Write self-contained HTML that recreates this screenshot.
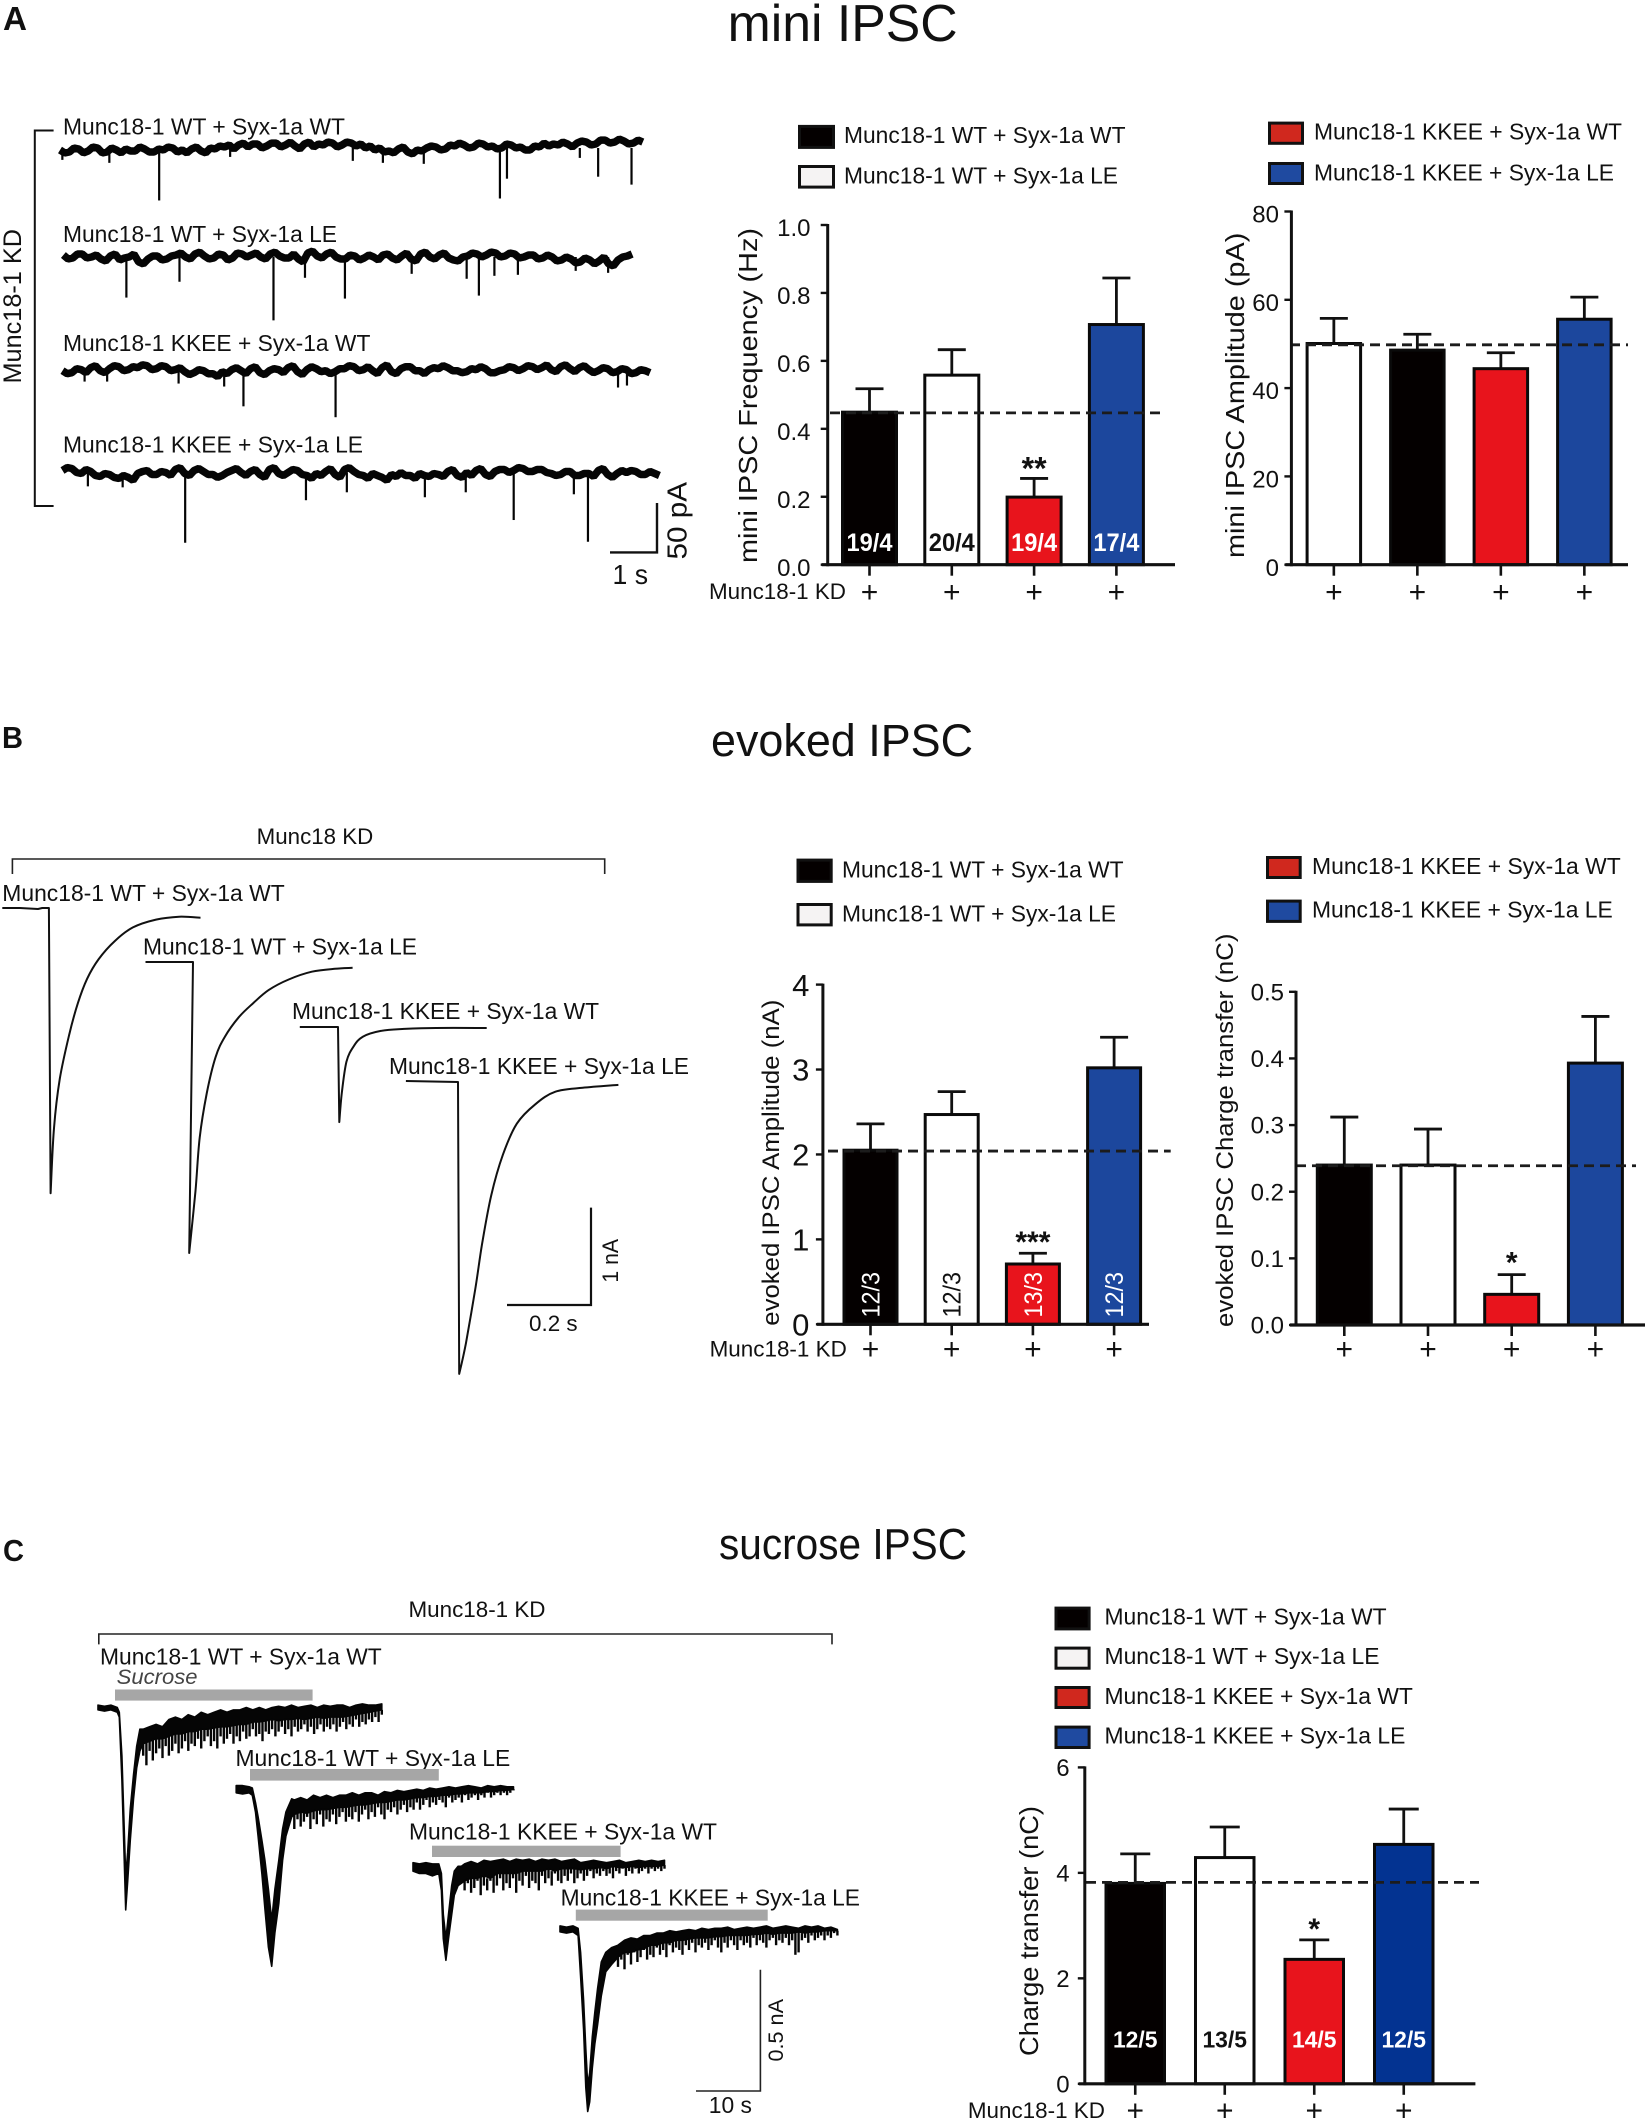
<!DOCTYPE html>
<html lang="en">
<head>
<meta charset="utf-8">
<title>Munc18-1 IPSC figure</title>
<style>
html,body{margin:0;padding:0;background:#fff;}
svg{display:block;}
text{font-family:"Liberation Sans",sans-serif;fill:#111;}
</style>
</head>
<body>
<svg id="fig" xmlns="http://www.w3.org/2000/svg" width="1650" height="2121" viewBox="0 0 1650 2121">
<rect width="1650" height="2121" fill="#fff"/>

<!-- panel headers -->
<text x="3" y="30" font-size="33" font-weight="700" textLength="24" lengthAdjust="spacingAndGlyphs">A</text>
<text x="2" y="748" font-size="31" font-weight="700" textLength="21" lengthAdjust="spacingAndGlyphs">B</text>
<text x="3" y="1561" font-size="31" font-weight="700" textLength="21" lengthAdjust="spacingAndGlyphs">C</text>
<text x="727.6" y="41" font-size="52" textLength="230" lengthAdjust="spacingAndGlyphs">mini IPSC</text>
<text x="711" y="756" font-size="45" textLength="262" lengthAdjust="spacingAndGlyphs">evoked IPSC</text>
<text x="719" y="1559" font-size="44" textLength="248" lengthAdjust="spacingAndGlyphs">sucrose IPSC</text>

<!-- panel A traces annotation -->
<path d="M53.6 130.5H34.8V506H53.6" fill="none" stroke="#111" stroke-width="2"/>
<text x="21" y="383.5" font-size="25" textLength="154.5" lengthAdjust="spacingAndGlyphs" transform="rotate(-90 21 383.5)">Munc18-1 KD</text>
<text x="63" y="134.4" font-size="23" textLength="282" lengthAdjust="spacingAndGlyphs">Munc18-1 WT + Syx-1a WT</text>
<text x="63" y="242" font-size="23" textLength="274" lengthAdjust="spacingAndGlyphs">Munc18-1 WT + Syx-1a LE</text>
<text x="63" y="351" font-size="23" textLength="307.4" lengthAdjust="spacingAndGlyphs">Munc18-1 KKEE + Syx-1a WT</text>
<text x="63" y="452.7" font-size="23" textLength="300" lengthAdjust="spacingAndGlyphs">Munc18-1 KKEE + Syx-1a LE</text>
<path d="M610 552.4H657V503" fill="none" stroke="#111" stroke-width="2.4"/>
<text x="612.5" y="584" font-size="28" textLength="35.5" lengthAdjust="spacingAndGlyphs">1 s</text>
<text x="686.6" y="559.5" font-size="28" textLength="77.5" lengthAdjust="spacingAndGlyphs" transform="rotate(-90 686.6 559.5)">50 pA</text>

<!-- panel A legends -->
<g><rect x="799.5" y="126.4" width="34" height="21" fill="#040000" stroke="#111" stroke-width="3"/><text x="844" y="143" font-size="23" textLength="281.5" lengthAdjust="spacingAndGlyphs">Munc18-1 WT + Syx-1a WT</text></g>
<g><rect x="799.5" y="166.5" width="34" height="20.6" fill="#f5f3f3" stroke="#111" stroke-width="3"/><text x="844" y="183.6" font-size="23" textLength="274" lengthAdjust="spacingAndGlyphs">Munc18-1 WT + Syx-1a LE</text></g>
<g><rect x="1269.5" y="123.1" width="33" height="20.2" fill="#d0281e" stroke="#111" stroke-width="3"/><text x="1314" y="139.5" font-size="23" textLength="308" lengthAdjust="spacingAndGlyphs">Munc18-1 KKEE + Syx-1a WT</text></g>
<g><rect x="1269.5" y="163.5" width="33" height="20" fill="#1f4aa0" stroke="#111" stroke-width="3"/><text x="1314" y="180.3" font-size="23" textLength="300" lengthAdjust="spacingAndGlyphs">Munc18-1 KKEE + Syx-1a LE</text></g>

<!-- panel B traces annotation -->
<text x="256.7" y="843.8" font-size="22" textLength="116.6" lengthAdjust="spacingAndGlyphs">Munc18 KD</text>
<path d="M12.4 874V859H604.7V874" fill="none" stroke="#222" stroke-width="1.6"/>
<text x="2.3" y="901" font-size="23" textLength="282.4" lengthAdjust="spacingAndGlyphs">Munc18-1 WT + Syx-1a WT</text>
<text x="143" y="954.5" font-size="23" textLength="274" lengthAdjust="spacingAndGlyphs">Munc18-1 WT + Syx-1a LE</text>
<text x="292" y="1019" font-size="23" textLength="307" lengthAdjust="spacingAndGlyphs">Munc18-1 KKEE + Syx-1a WT</text>
<text x="389" y="1074" font-size="23" textLength="300" lengthAdjust="spacingAndGlyphs">Munc18-1 KKEE + Syx-1a LE</text>
<path d="M507 1305H591V1207.6" fill="none" stroke="#111" stroke-width="2.2"/>
<text x="529" y="1330.8" font-size="22" textLength="48.6" lengthAdjust="spacingAndGlyphs">0.2 s</text>
<text x="618" y="1282.6" font-size="22" textLength="43.6" lengthAdjust="spacingAndGlyphs" transform="rotate(-90 618 1282.6)">1 nA</text>

<!-- panel B legends -->
<g><rect x="798" y="860.1" width="33.2" height="21.3" fill="#040000" stroke="#111" stroke-width="3"/><text x="842" y="877.5" font-size="23" textLength="281.6" lengthAdjust="spacingAndGlyphs">Munc18-1 WT + Syx-1a WT</text></g>
<g><rect x="798" y="904.5" width="33.2" height="20.4" fill="#f5f3f3" stroke="#111" stroke-width="3"/><text x="842" y="921.4" font-size="23" textLength="274" lengthAdjust="spacingAndGlyphs">Munc18-1 WT + Syx-1a LE</text></g>
<g><rect x="1267.5" y="857.5" width="32.7" height="20" fill="#d0281e" stroke="#111" stroke-width="3"/><text x="1312" y="873.9" font-size="23" textLength="308.8" lengthAdjust="spacingAndGlyphs">Munc18-1 KKEE + Syx-1a WT</text></g>
<g><rect x="1267.5" y="901.1" width="32.7" height="20.3" fill="#1f4aa0" stroke="#111" stroke-width="3"/><text x="1312" y="917.5" font-size="23" textLength="300.8" lengthAdjust="spacingAndGlyphs">Munc18-1 KKEE + Syx-1a LE</text></g>

<!-- panel C traces annotation -->
<text x="408.5" y="1616.8" font-size="22" textLength="137" lengthAdjust="spacingAndGlyphs">Munc18-1 KD</text>
<path d="M98.8 1644.4V1634H832V1644.4" fill="none" stroke="#222" stroke-width="1.6"/>
<text x="100" y="1664.7" font-size="23" textLength="281.7" lengthAdjust="spacingAndGlyphs">Munc18-1 WT + Syx-1a WT</text>
<text x="116.7" y="1683.8" font-size="21" font-style="italic" textLength="80.8" lengthAdjust="spacingAndGlyphs" style="fill:#444">Sucrose</text>
<rect x="115" y="1689.5" width="197.6" height="11.1" fill="#a6a6a6"/>
<text x="235.5" y="1766" font-size="23" textLength="274.7" lengthAdjust="spacingAndGlyphs">Munc18-1 WT + Syx-1a LE</text>
<rect x="250" y="1769" width="188.8" height="11.6" fill="#a6a6a6"/>
<text x="409" y="1839.6" font-size="23" textLength="308" lengthAdjust="spacingAndGlyphs">Munc18-1 KKEE + Syx-1a WT</text>
<rect x="432" y="1845.7" width="188.6" height="11.3" fill="#a6a6a6"/>
<text x="560.6" y="1905.4" font-size="23" textLength="299.4" lengthAdjust="spacingAndGlyphs">Munc18-1 KKEE + Syx-1a LE</text>
<rect x="575.8" y="1909.6" width="191.9" height="11.1" fill="#a6a6a6"/>
<path d="M696 2091H760.4V1969.7" fill="none" stroke="#222" stroke-width="1.6"/>
<text x="708.8" y="2113" font-size="23" textLength="43.2" lengthAdjust="spacingAndGlyphs">10 s</text>
<text x="783" y="2061.5" font-size="21" textLength="62.5" lengthAdjust="spacingAndGlyphs" transform="rotate(-90 783 2061.5)">0.5 nA</text>

<!-- panel C legend -->
<g><rect x="1056" y="1608.1" width="33.1" height="20.8" fill="#040000" stroke="#111" stroke-width="3"/><text x="1104.5" y="1624.4" font-size="23" textLength="282.1" lengthAdjust="spacingAndGlyphs">Munc18-1 WT + Syx-1a WT</text></g>
<g><rect x="1056" y="1648.1" width="33.1" height="20.1" fill="#f5f3f3" stroke="#111" stroke-width="3"/><text x="1104.5" y="1664.2" font-size="23" textLength="275" lengthAdjust="spacingAndGlyphs">Munc18-1 WT + Syx-1a LE</text></g>
<g><rect x="1056" y="1687.5" width="33.1" height="20" fill="#d0281e" stroke="#111" stroke-width="3"/><text x="1104.5" y="1703.8" font-size="23" textLength="308.4" lengthAdjust="spacingAndGlyphs">Munc18-1 KKEE + Syx-1a WT</text></g>
<g><rect x="1056" y="1727.1" width="33.1" height="20.4" fill="#1f4aa0" stroke="#111" stroke-width="3"/><text x="1104.5" y="1743.5" font-size="23" textLength="300.9" lengthAdjust="spacingAndGlyphs">Munc18-1 KKEE + Syx-1a LE</text></g>

<!-- axis titles -->
<text x="757" y="563" font-size="26" textLength="335" lengthAdjust="spacingAndGlyphs" transform="rotate(-90 757 563)">mini IPSC Frequency (Hz)</text>
<text x="1244" y="558" font-size="26" textLength="325.3" lengthAdjust="spacingAndGlyphs" transform="rotate(-90 1244 558)">mini IPSC Amplitude (pA)</text>
<text x="778.8" y="1325.7" font-size="24" textLength="326" lengthAdjust="spacingAndGlyphs" transform="rotate(-90 778.8 1325.7)">evoked IPSC Amplitude (nA)</text>
<text x="1233" y="1327" font-size="24" textLength="393.4" lengthAdjust="spacingAndGlyphs" transform="rotate(-90 1233 1327)">evoked IPSC Charge transfer (nC)</text>
<text x="1038" y="2056" font-size="26" textLength="250" lengthAdjust="spacingAndGlyphs" transform="rotate(-90 1038 2056)">Charge transfer (nC)</text>

<!-- row captions -->
<text x="709" y="599" font-size="22" textLength="137" lengthAdjust="spacingAndGlyphs">Munc18-1 KD</text>
<text x="709.6" y="1356.5" font-size="22" textLength="137.2" lengthAdjust="spacingAndGlyphs">Munc18-1 KD</text>
<text x="967.9" y="2118" font-size="22" textLength="137" lengthAdjust="spacingAndGlyphs">Munc18-1 KD</text>

<g id="marks"></g>
</svg>

<script>
/* ---------- bar chart data ---------- */
const kdRow = ['+', '+', '+', '+'];

const miniFreqTicks = ['0.0', '0.2', '0.4', '0.6', '0.8', '1.0'];
const miniFreqValues = [0.449, 0.558, 0.199, 0.707];
const miniFreqErrors = [0.518, 0.633, 0.254, 0.844];
const miniFreqCounts = ['19/4', '20/4', '19/4', '17/4'];
const miniFreqStars = ['', '', '**', ''];
const miniFreqReference = 0.447;

const miniAmpTicks = ['0', '20', '40', '60', '80'];
const miniAmpValues = [50.1, 48.6, 44.4, 55.6];
const miniAmpErrors = [55.8, 52.2, 48, 60.6];
const miniAmpReference = 49.8;

const evokedAmpTicks = ['0', '1', '2', '3', '4'];
const evokedAmpValues = [2.05, 2.47, 0.71, 3.02];
const evokedAmpErrors = [2.36, 2.74, 0.837, 3.38];
const evokedAmpCounts = ['12/3', '12/3', '13/3', '12/3'];
const evokedAmpStars = ['', '', '***', ''];
const evokedAmpReference = 2.04;

const evokedChargeTicks = ['0.0', '0.1', '0.2', '0.3', '0.4', '0.5'];
const evokedChargeValues = [0.24, 0.24, 0.046, 0.393];
const evokedChargeErrors = [0.312, 0.294, 0.0756, 0.463];
const evokedChargeStars = ['', '', '*', ''];
const evokedChargeReference = 0.239;

const sucroseTicks = ['0', '2', '4', '6'];
const sucroseValues = [3.8, 4.29, 2.36, 4.54];
const sucroseErrors = [4.36, 4.87, 2.73, 5.21];
const sucroseCounts = ['12/5', '13/5', '14/5', '12/5'];
const sucroseStars = ['', '', '*', ''];
const sucroseReference = 3.82;

/* ---------- mini IPSC traces (pA, sampled every 0.1 s) ---------- */
const mini1Level = [-2,-5,-4,0,-1,-5,-3,1,0,-5,-4,0,-2,-5,-1,-3,-3,1,-1,-4,-4,-1,-2,1,0,-4,-2,-5,-1,1,-3,-5,0,-1,2,1,3,-1,3,5,1,4,4,0,2,5,5,1,3,6,2,-1,4,6,1,4,3,6,5,1,3,6,5,2,4,0,2,-2,0,-4,-3,-5,-1,1,-4,-6,-2,-3,0,2,1,-2,-1,3,2,5,3,0,1,5,4,1,2,-1,0,4,3,0,1,-2,-2,2,1,5,2,4,3,6,4,1,5,7,6,3,4,8,8,5,6,9,7,4,5,8,6];
const mini1SpikeTime = [0.05,1.05,2.11,3.62,6.23,6.87,7.74,9.36,9.51,11.06,11.45,12.16];
const mini1SpikeDepth = [12,15,53,9,13,15,16,51,31,10,29,37];

const mini2Level = [2,-2,-1,3,3,-1,0,2,-2,-4,1,3,-3,-1,0,3,-5,-7,-2,1,1,-3,-2,1,2,4,0,-2,3,5,1,-2,-1,3,2,-3,-1,4,3,0,2,4,0,-2,3,5,1,-1,-1,3,-2,-5,4,6,1,-1,3,5,0,-2,-2,2,1,-3,-1,2,0,-3,2,3,-1,-3,1,4,-2,-4,3,5,0,-2,2,4,-1,-3,-4,0,1,4,3,0,2,5,4,0,1,4,3,-1,0,2,2,-2,-1,2,0,-4,-3,0,-2,-6,-5,-1,-3,-7,-4,0,-7,-9,-3,0,1,3];
const mini2SpikeTime = [1.34,2.47,4.47,5.14,5.99,7.41,8.58,8.84,9.17,9.67,10.9,11.59];
const mini2SpikeDepth = [41,25,64,21,42,17,22,39,19,18,14,16];

const mini3Level = [-1,-4,-3,1,0,-3,2,4,-1,-3,1,4,3,-1,0,3,2,5,4,0,1,4,3,-1,0,2,-2,-5,-3,0,-1,-4,-4,-7,-2,-4,0,2,-1,-4,1,3,-3,-5,-1,1,0,-3,2,4,-2,-5,0,3,1,-2,-1,-4,-2,1,1,4,3,-1,0,3,-1,-4,2,5,-2,-4,1,3,3,-1,-1,-4,0,2,1,4,2,-1,-1,-3,-2,1,0,3,1,-3,-3,-1,0,3,2,-1,1,4,3,0,2,5,0,-2,3,5,1,-2,2,4,0,-3,-1,2,1,-3,-2,1,0,-4,-3,0,-1,-3];
const mini3SpikeTime = [0.47,0.95,2.47,3.44,3.85,5.81,11.82,12.01];
const mini3SpikeDepth = [12,12,14,17,37,48,18,16];

const mini4Level = [2,5,4,0,-1,3,1,-3,-4,-1,-2,-5,-6,-3,-5,-8,-1,1,2,-2,-2,1,0,-3,3,5,-1,-3,2,4,1,-2,-2,-5,-3,0,2,4,0,-3,1,3,-2,-5,3,5,-1,-3,0,3,2,-2,-3,-6,-1,-3,1,4,-2,-5,3,5,1,-2,-3,-6,-1,-3,-5,-8,-2,-4,0,-3,-3,-6,-1,-3,-4,-1,-2,-4,1,3,-3,-5,0,-3,2,4,-2,-4,1,3,3,0,2,5,4,1,1,3,3,0,-1,-3,-2,1,1,-3,-3,-1,-1,-4,2,4,-2,-5,-1,2,0,2,1,-2,-2,1,-1,-3];
const mini4SpikeTime = [0.54,1.28,2.61,5.18,6.05,7.71,8.58,9.6,10.88,11.18];
const mini4SpikeDepth = [14,15,71,28,20,25,20,48,22,70];

/* ---------- evoked IPSC traces (s, nA) ---------- */
const evoked1Time = [0,0.042,0.085,0.095,0.111,0.115,0.123,0.137,0.159,0.18,0.202,0.229,0.268,0.311,0.366,0.421,0.472];
const evoked1Current = [0,0,-0.01,0,0,-2.94,-2.27,-1.76,-1.31,-0.98,-0.73,-0.53,-0.34,-0.2,-0.12,-0.09,-0.1];
const evoked2Time = [0,0.113,0.104,0.119,0.129,0.146,0.167,0.189,0.222,0.255,0.293,0.341,0.396,0.451,0.493];
const evoked2Current = [0,0,-3,-2.36,-1.81,-1.35,-0.98,-0.77,-0.57,-0.43,-0.29,-0.18,-0.1,-0.07,-0.06];
const evoked3Time = [0,0.091,0.094,0.1,0.111,0.128,0.15,0.193,0.248,0.324,0.445];
const evoked3Current = [0,0,-0.98,-0.68,-0.36,-0.2,-0.1,-0.04,-0.02,-0.01,-0.01];
const evoked4Time = [0,0.124,0.127,0.143,0.165,0.181,0.203,0.231,0.264,0.308,0.356,0.421,0.506];
const evoked4Current = [0,-0.01,-3.02,-2.7,-2.15,-1.69,-1.18,-0.76,-0.44,-0.24,-0.11,-0.07,-0.04];

/* ---------- sucrose traces (s; solid band envelope and fringe minima every 0.5 s, nA) ---------- */
const sucrose1Time = [0,1,2,3,3.3,3.7,4,4.3,4.6,5,5.5,6,6.5,7,8,9,10,11,12,13,14,15,16,17,18,19,20,21,22,23,24,25,26,27,28,29,30,31,32,33,34,35,36,37,38,39,40,41,42,43,44];
const sucrose1Top = [0.01,0.005,0.01,0,-0.02,-0.2,-0.45,-0.7,-0.6,-0.42,-0.28,-0.16,-0.09,-0.09,-0.08,-0.07,-0.08,-0.05,-0.04,-0.05,-0.03,-0.04,-0.02,-0.03,-0.02,-0.01,-0.02,-0.01,-0.01,0,-0.01,0,-0.01,0,0.005,0,0.01,0,0.005,0.01,0,0.01,0.005,0.01,0.01,0,0.01,0.015,0.01,0.01,0.015];
const sucrose1Bottom = [-0.01,-0.015,-0.01,-0.02,-0.04,-0.3,-0.57,-0.84,-0.72,-0.55,-0.38,-0.25,-0.18,-0.15,-0.14,-0.13,-0.13,-0.12,-0.11,-0.11,-0.1,-0.1,-0.09,-0.09,-0.085,-0.08,-0.08,-0.075,-0.07,-0.07,-0.06,-0.06,-0.055,-0.05,-0.055,-0.05,-0.05,-0.045,-0.05,-0.045,-0.04,-0.045,-0.04,-0.04,-0.04,-0.035,-0.03,-0.025,-0.02,-0.015,-0.01];
const sucrose1FringeStart = 7;
const sucrose1Fringe = [-0.2,-0.24,-0.18,-0.22,-0.19,-0.17,-0.21,-0.16,-0.2,-0.18,-0.15,-0.19,-0.17,-0.14,-0.18,-0.15,-0.16,-0.13,-0.17,-0.14,-0.12,-0.16,-0.14,-0.17,-0.12,-0.15,-0.13,-0.11,-0.15,-0.12,-0.14,-0.1,-0.13,-0.12,-0.09,-0.12,-0.11,-0.14,-0.1,-0.11,-0.09,-0.12,-0.1,-0.08,-0.11,-0.09,-0.12,-0.08,-0.1,-0.09,-0.07,-0.1,-0.08,-0.11,-0.09,-0.07,-0.1,-0.08,-0.09,-0.07,-0.1,-0.08,-0.06,-0.09,-0.07,-0.08,-0.05,-0.08,-0.06,-0.07,-0.05,-0.06,-0.04,-0.06,-0.03];

const sucrose2Time = [0,1,2,2.5,3,3.4,4,4.45,5,5.5,6,6.6,7.2,7.7,8.6,9,10,11,12,13,14,15,16,17,18,19,20,21,22,23,24,25,26,27,28,29,30,31,32,33,34,35,36,37,38,39,40,41,42,43];
const sucrose2Top = [0.01,0.01,0.005,0,-0.06,-0.12,-0.22,-0.3,-0.42,-0.55,-0.42,-0.3,-0.17,-0.1,-0.045,-0.05,-0.04,-0.05,-0.03,-0.04,-0.03,-0.04,-0.03,-0.03,-0.02,-0.03,-0.02,-0.02,-0.03,-0.015,-0.02,-0.01,-0.015,-0.01,-0.005,-0.01,0,-0.005,0,0.005,0,0.005,0.01,0.005,0,0.01,0.005,0.01,0.005,0.005];
const sucrose2Bottom = [-0.02,-0.025,-0.02,-0.03,-0.1,-0.2,-0.36,-0.5,-0.66,-0.74,-0.6,-0.48,-0.3,-0.2,-0.12,-0.11,-0.1,-0.105,-0.095,-0.09,-0.09,-0.085,-0.08,-0.08,-0.075,-0.07,-0.07,-0.065,-0.06,-0.06,-0.055,-0.05,-0.05,-0.045,-0.04,-0.04,-0.035,-0.035,-0.03,-0.03,-0.025,-0.025,-0.02,-0.02,-0.02,-0.015,-0.015,-0.01,-0.01,-0.005];
const sucrose2FringeStart = 9;
const sucrose2Fringe = [-0.17,-0.13,-0.16,-0.14,-0.12,-0.17,-0.13,-0.15,-0.11,-0.16,-0.13,-0.14,-0.11,-0.15,-0.12,-0.1,-0.14,-0.12,-0.13,-0.1,-0.14,-0.11,-0.09,-0.13,-0.1,-0.12,-0.08,-0.11,-0.13,-0.09,-0.1,-0.08,-0.11,-0.09,-0.07,-0.1,-0.08,-0.09,-0.06,-0.09,-0.07,-0.05,-0.08,-0.06,-0.07,-0.05,-0.06,-0.08,-0.04,-0.06,-0.05,-0.04,-0.06,-0.03,-0.05,-0.04,-0.03,-0.05,-0.03,-0.04,-0.02,-0.04,-0.03,-0.02,-0.03,-0.02,-0.03,-0.02,-0.01];

const sucrose3Time = [0,1,2,3,4,4.4,4.7,5.1,5.5,6,6.4,7,7.5,8,9,10,11,12,13,14,15,16,17,18,19,20,21,22,23,24,25,26,27,28,29,30,31,32,33,34,35,36,37,38,39];
const sucrose3Top = [0.015,0.01,0.015,0.01,0.01,-0.03,-0.2,-0.3,-0.2,-0.08,-0.02,0,0,0.01,0.02,0.01,0.025,0.02,0.025,0.03,0.02,0.03,0.025,0.03,0.02,0.03,0.025,0.03,0.02,0.025,0.03,0.015,0.02,0.025,0.02,0.015,0.02,0.025,0.015,0.02,0.025,0.02,0.025,0.02,0.025];
const sucrose3Bottom = [-0.02,-0.03,-0.03,-0.04,-0.03,-0.1,-0.3,-0.39,-0.3,-0.2,-0.12,-0.08,-0.07,-0.06,-0.05,-0.05,-0.04,-0.05,-0.03,-0.03,-0.03,-0.03,-0.02,-0.02,-0.02,-0.02,-0.01,-0.02,-0.01,-0.01,-0.01,-0.015,-0.01,-0.01,-0.005,-0.01,0,-0.005,-0.005,0,-0.005,0,0,0,0.005];
const sucrose3FringeStart = 8;
const sucrose3Fringe = [-0.1,-0.07,-0.11,-0.09,-0.06,-0.12,-0.08,-0.1,-0.06,-0.11,-0.08,-0.05,-0.1,-0.07,-0.09,-0.05,-0.11,-0.06,-0.08,-0.04,-0.09,-0.06,-0.07,-0.1,-0.04,-0.07,-0.05,-0.08,-0.03,-0.06,-0.07,-0.04,-0.06,-0.03,-0.07,-0.05,-0.03,-0.06,-0.04,-0.02,-0.05,-0.03,-0.04,-0.02,-0.04,-0.03,-0.05,-0.02,-0.03,-0.01,-0.04,-0.02,-0.03,-0.01,-0.03,-0.02,-0.01,-0.03,-0.01,-0.02,-0.01,-0.02,-0.01];

const sucrose4Time = [0,1,2,2.8,3.2,3.66,4,4.3,4.6,5,5.4,5.83,6.4,7.1,8,9,10,11,12,13,14,15,16,17,18,19,20,21,22,23,24,25,26,27,28,29,30,31,32,33,34,35,36,37,38,39,40,41,42,43];
const sucrose4Top = [0.01,0.005,0.01,0,-0.1,-0.3,-0.5,-0.65,-0.6,-0.45,-0.35,-0.25,-0.14,-0.1,-0.08,-0.07,-0.05,-0.04,-0.045,-0.03,-0.03,-0.02,-0.02,-0.01,-0.015,-0.01,-0.005,-0.01,0,-0.005,0,0,0.005,-0.005,0,0.005,0,0.005,0.01,0,0.005,0.01,0.005,0,0.01,0.005,0.01,0,0.005,-0.005];
const sucrose4Bottom = [-0.015,-0.02,-0.015,-0.03,-0.2,-0.42,-0.66,-0.76,-0.72,-0.58,-0.48,-0.4,-0.28,-0.18,-0.15,-0.12,-0.1,-0.1,-0.09,-0.085,-0.07,-0.07,-0.06,-0.06,-0.05,-0.05,-0.045,-0.04,-0.04,-0.04,-0.035,-0.035,-0.03,-0.03,-0.03,-0.03,-0.025,-0.025,-0.02,-0.025,-0.02,-0.02,-0.02,-0.015,-0.02,-0.015,-0.015,-0.01,-0.01,-0.01];
const sucrose4FringeStart = 9;
const sucrose4Fringe = [-0.16,-0.13,-0.17,-0.11,-0.15,-0.1,-0.14,-0.12,-0.09,-0.13,-0.11,-0.12,-0.08,-0.11,-0.09,-0.12,-0.07,-0.1,-0.08,-0.09,-0.11,-0.07,-0.09,-0.06,-0.1,-0.07,-0.08,-0.06,-0.09,-0.07,-0.05,-0.08,-0.1,-0.06,-0.08,-0.05,-0.07,-0.09,-0.05,-0.07,-0.06,-0.08,-0.04,-0.07,-0.05,-0.06,-0.08,-0.05,-0.04,-0.07,-0.05,-0.06,-0.04,-0.07,-0.05,-0.11,-0.1,-0.05,-0.04,-0.06,-0.03,-0.05,-0.04,-0.03,-0.05,-0.03,-0.04,-0.02,-0.03];

/* ---------- drawing ---------- */
const NS = 'http://www.w3.org/2000/svg';
const root = document.getElementById('marks');
const BLACK = '#040000', WHITE = '#ffffff', RED = '#e8141c', BLUE = '#1c479d', NAVY = '#033391';

function make(tag, attrs, parent) {
  const node = document.createElementNS(NS, tag);
  Object.keys(attrs).forEach(function (k) { node.setAttribute(k, attrs[k]); });
  (parent || root).appendChild(node);
  return node;
}

function drawBarChart(c) {
  const g = make('g', {});
  
  
  const max = parseFloat(c.ticks[c.ticks.length - 1]);
  const yOf = function (v) { return c.base - (v / max) * (c.base - c.top); };
  const left = function (i) { return c.first + i * c.step; };
  const mid = function (i) { return left(i) + c.width / 2; };

  c.values.forEach(function (v, i) {
    const err = make('path', {
      d: 'M' + mid(i) + ' ' + yOf(v) + 'V' + yOf(c.errors[i]) + 'M' + (mid(i) - c.cap / 2) + ' ' + yOf(c.errors[i]) + 'H' + (mid(i) + c.cap / 2),
      fill: 'none', stroke: '#111', 'stroke-width': 2.8
    }, g);
    
    
    const bar = make('rect', {
      x: left(i) + 1.5, y: yOf(v), width: c.width - 3, height: c.base - yOf(v),
      fill: c.colors[i], stroke: '#0a0a0a', 'stroke-width': 3
    }, g);
    
    
    if (c.counts) {
      const cx = mid(i);
      const ink = c.colors[i] === WHITE ? '#111' : '#fff';
      const label = make('text', {
        'font-size': c.countSize, 'font-weight': c.countRotated ? 400 : 700,
        textLength: c.countLength, lengthAdjust: 'spacingAndGlyphs'
      }, g);
      label.style.fill = ink;
      if (c.countRotated) {
        const bx = cx + 9, by = c.countY;
        label.setAttribute('x', bx);
        label.setAttribute('y', by);
        label.setAttribute('transform', 'rotate(-90 ' + bx + ' ' + by + ')');
      } else {
        label.setAttribute('x', cx - c.countLength / 2);
        label.setAttribute('y', c.countY);
      }
      label.textContent = c.counts[i];
      
      
    }
    if (c.stars && c.stars[i]) {
      const star = make('text', {
        x: mid(i), y: yOf(c.errors[i]) - 5 + c.starOffset, 'font-size': c.starSize, 'font-weight': 700, 'text-anchor': 'middle'
      }, g);
      star.textContent = c.stars[i];
      
      
    }
    const xTick = make('line', {
      x1: mid(i), x2: mid(i), y1: c.base, y2: c.base + 11, stroke: '#111', 'stroke-width': 2.6
    }, g);
    
    
    const plus = make('text', {
      x: mid(i), y: c.plusY, 'font-size': 30, 'text-anchor': 'middle'
    }, g);
    plus.textContent = kdRow[i];
    
    
  });

  const ref = make('line', {
    x1: c.refFrom, x2: c.refTo, y1: yOf(c.reference), y2: yOf(c.reference),
    stroke: '#1c1c1c', 'stroke-width': 2.8, 'stroke-dasharray': '10 6'
  }, g);
  
  

  const yAxis = make('line', {
    x1: c.axisX, x2: c.axisX, y1: c.top - 1, y2: c.base + 1.5, stroke: '#111', 'stroke-width': 3
  }, g);
  
  
  const xAxis = make('line', {
    x1: c.axisX - 6, x2: c.axisEnd, y1: c.base, y2: c.base, stroke: '#111', 'stroke-width': 3.2
  }, g);
  
  

  c.ticks.forEach(function (t) {
    const y = yOf(parseFloat(t));
    const tick = make('line', {
      x1: c.axisX - 7, x2: c.axisX, y1: y, y2: y, stroke: '#111', 'stroke-width': 2.4
    }, g);
    
    
    const label = make('text', {
      x: c.labelRight, y: y + c.labelSize * 0.36 + c.labelShift, 'font-size': c.labelSize, 'text-anchor': 'end'
    }, g);
    label.textContent = t;
    
    
  });
}

function drawMiniTrace(level, spikeTime, spikeDepth, x0, y0) {
  const pxPerSec = 47, pxPerPa = 0.99, sampleStep = 0.1;
  const xOf = function (t) { return x0 + t * pxPerSec; };
  const yOf = function (pa) { return y0 - pa * pxPerPa; };
  const d = level.map(function (v, i) { return (i ? 'L' : 'M') + xOf(i * sampleStep).toFixed(1) + ' ' + yOf(v).toFixed(1); }).join('');
  const line = make('path', { d: d, fill: 'none', stroke: '#050505', 'stroke-width': 7.5, 'stroke-linejoin': 'bevel' });
  
  
  spikeTime.forEach(function (t, i) {
    const spike = make('line', {
      x1: xOf(t), x2: xOf(t), y1: y0, y2: y0 + spikeDepth[i] * pxPerPa, stroke: '#050505', 'stroke-width': 2.2
    });
    
    
  });
}

function drawEvokedTrace(time, current, x0, y0) {
  const pxPerSec = 420, pxPerNa = 97;
  const pts = time.map(function (t, i) { return [x0 + t * pxPerSec, y0 - current[i] * pxPerNa]; });
  let peak = 0;
  current.forEach(function (v, i) { if (v < current[peak]) { peak = i; } });
  let d = 'M' + pts[0][0].toFixed(1) + ' ' + pts[0][1].toFixed(1);
  for (let i = 1; i <= peak; i++) { d += 'L' + pts[i][0].toFixed(1) + ' ' + pts[i][1].toFixed(1); }
  for (let i = peak; i < pts.length - 1; i++) {
    const p0 = pts[Math.max(i - 1, peak)], p1 = pts[i], p2 = pts[i + 1], p3 = pts[Math.min(i + 2, pts.length - 1)];
    d += 'C' + (p1[0] + (p2[0] - p0[0]) / 6).toFixed(1) + ' ' + (p1[1] + (p2[1] - p0[1]) / 6).toFixed(1) + ' ' +
         (p2[0] - (p3[0] - p1[0]) / 6).toFixed(1) + ' ' + (p2[1] - (p3[1] - p1[1]) / 6).toFixed(1) + ' ' +
         p2[0].toFixed(1) + ' ' + p2[1].toFixed(1);
  }
  const line = make('path', { d: d, fill: 'none', stroke: '#111', 'stroke-width': 2, 'stroke-linejoin': 'round' });
  
  
}

function drawSucroseTrace(time, top, bottom, fringe, fringeStart, x0, y0) {
  const pxPerSec = 6.45, pxPerNa = 241, fringeStep = 0.5;
  const xOf = function (t) { return (x0 + t * pxPerSec).toFixed(1); };
  const yOf = function (v) { return (y0 - v * pxPerNa).toFixed(1); };
  let d = '';
  time.forEach(function (t, i) { d += (i ? 'L' : 'M') + xOf(t) + ' ' + yOf(top[i]); });
  for (let i = time.length - 1; i >= 0; i--) { d += 'L' + xOf(time[i]) + ' ' + yOf(bottom[i]); }
  const area = make('path', { d: d + 'Z', fill: '#050505', stroke: '#050505', 'stroke-width': 1.6, 'stroke-linejoin': 'round' });
  
  
  fringe.forEach(function (low, i) {
    const t = fringeStart + i * fringeStep;
    let idx = time.findIndex(function (s) { return s >= t; });
    if (idx < 0) { idx = time.length - 1; }
    const spike = make('line', {
      x1: xOf(t), x2: xOf(t), y1: yOf(bottom[idx]), y2: yOf(low), stroke: '#050505', 'stroke-width': 2.4
    });
    
    
  });
}

drawMiniTrace(mini1Level, mini1SpikeTime, mini1SpikeDepth, 60, 148);
drawMiniTrace(mini2Level, mini2SpikeTime, mini2SpikeDepth, 63.4, 257);
drawMiniTrace(mini3Level, mini3SpikeTime, mini3SpikeDepth, 62.5, 369.7);
drawMiniTrace(mini4Level, mini4SpikeTime, mini4SpikeDepth, 62.5, 472.5);

drawEvokedTrace(evoked1Time, evoked1Current, 2.3, 908);
drawEvokedTrace(evoked2Time, evoked2Current, 145.5, 962);
drawEvokedTrace(evoked3Time, evoked3Current, 299.8, 1027);
drawEvokedTrace(evoked4Time, evoked4Current, 405.9, 1081);

drawSucroseTrace(sucrose1Time, sucrose1Top, sucrose1Bottom, sucrose1Fringe, sucrose1FringeStart, 98, 1707.5);
drawSucroseTrace(sucrose2Time, sucrose2Top, sucrose2Bottom, sucrose2Fringe, sucrose2FringeStart, 236.2, 1788);
drawSucroseTrace(sucrose3Time, sucrose3Top, sucrose3Bottom, sucrose3Fringe, sucrose3FringeStart, 413, 1866.3);
drawSucroseTrace(sucrose4Time, sucrose4Top, sucrose4Bottom, sucrose4Fringe, sucrose4FringeStart, 560, 1928.3);

drawBarChart({
  ticks: miniFreqTicks, values: miniFreqValues, errors: miniFreqErrors, counts: miniFreqCounts, stars: miniFreqStars,
  reference: miniFreqReference, colors: [BLACK, WHITE, RED, BLUE],
  axisX: 827.7, axisEnd: 1175, base: 564.7, top: 225,
  first: 841, step: 82.3, width: 57, cap: 28,
  refFrom: 830, refTo: 1163, labelRight: 810.5, labelSize: 24, labelShift: 2.5, plusY: 602,
  countSize: 25, countLength: 46, countY: 551, countRotated: false,
  starSize: 32, starOffset: 6
});
drawBarChart({
  ticks: miniAmpTicks, values: miniAmpValues, errors: miniAmpErrors,
  reference: miniAmpReference, colors: [WHITE, BLACK, RED, BLUE],
  axisX: 1291.4, axisEnd: 1628, base: 564.7, top: 211.5,
  first: 1305.6, step: 83.5, width: 56.5, cap: 28,
  refFrom: 1290, refTo: 1628, labelRight: 1279, labelSize: 24, labelShift: 2.5, plusY: 602
});
drawBarChart({
  ticks: evokedAmpTicks, values: evokedAmpValues, errors: evokedAmpErrors, counts: evokedAmpCounts, stars: evokedAmpStars,
  reference: evokedAmpReference, colors: [BLACK, WHITE, RED, BLUE],
  axisX: 822.9, axisEnd: 1149, base: 1324.3, top: 984.6,
  first: 842.5, step: 81.2, width: 56, cap: 28,
  refFrom: 828, refTo: 1170.7, labelRight: 809.4, labelSize: 31, labelShift: 0, plusY: 1359,
  countSize: 25, countLength: 45.5, countY: 1317.5, countRotated: true,
  starSize: 30, starOffset: 4
});
drawBarChart({
  ticks: evokedChargeTicks, values: evokedChargeValues, errors: evokedChargeErrors, stars: evokedChargeStars,
  reference: evokedChargeReference, colors: [BLACK, WHITE, RED, BLUE],
  axisX: 1296, axisEnd: 1645, base: 1325, top: 991.8,
  first: 1315.8, step: 83.7, width: 57, cap: 28,
  refFrom: 1296, refTo: 1636, labelRight: 1284, labelSize: 24, labelShift: 0, plusY: 1359,
  starSize: 30, starOffset: 3
});
drawBarChart({
  ticks: sucroseTicks, values: sucroseValues, errors: sucroseErrors, counts: sucroseCounts, stars: sucroseStars,
  reference: sucroseReference, colors: [BLACK, WHITE, RED, NAVY],
  axisX: 1084.8, axisEnd: 1475.4, base: 2083.8, top: 1767.4,
  first: 1104.5, step: 89.5, width: 61.5, cap: 30,
  refFrom: 1086, refTo: 1479, labelRight: 1069.6, labelSize: 24, labelShift: 0, plusY: 2120.5,
  countSize: 23, countLength: 44.6, countY: 2047.5, countRotated: false,
  starSize: 30, starOffset: 4
});
</script>
</body>
</html>
